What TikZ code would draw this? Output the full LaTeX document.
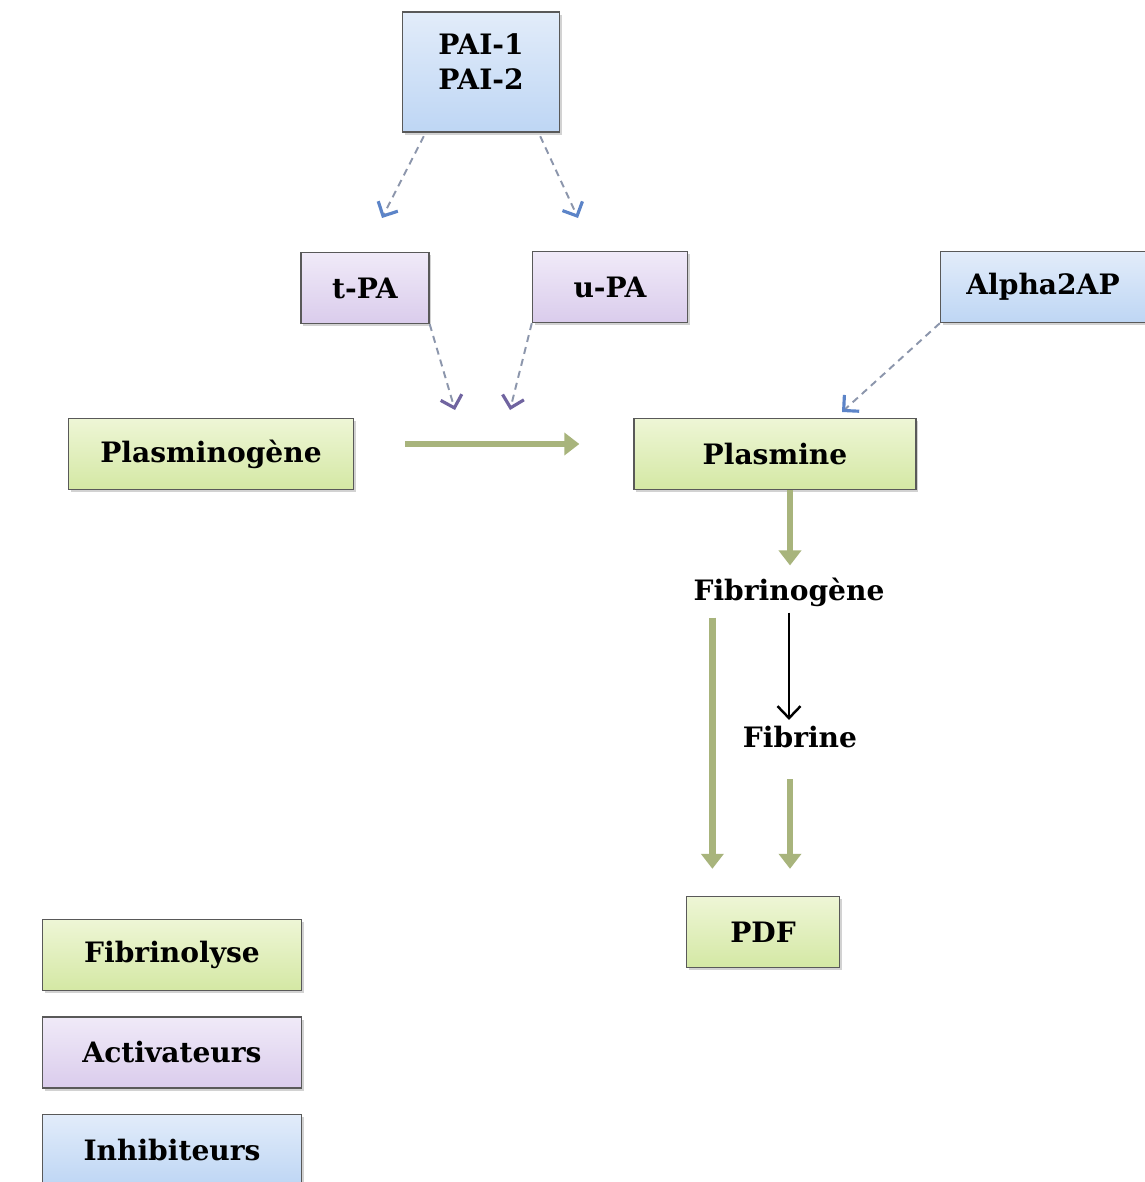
\documentclass[tikz,border=0pt]{standalone}
\usepackage{fontspec}
\setmainfont{DejaVu Serif}
\usepackage{tikz}
\usetikzlibrary{arrows.meta,positioning,shadows}
\definecolor{fibtop}{RGB}{238,246,214}
\definecolor{fibbot}{RGB}{212,232,164}
\definecolor{acttop}{RGB}{240,234,248}
\definecolor{actbot}{RGB}{218,204,236}
\definecolor{inhtop}{RGB}{226,236,250}
\definecolor{inhbot}{RGB}{190,214,244}
\definecolor{olive}{RGB}{168,180,124}
\definecolor{dashgrey}{RGB}{140,150,172}
\definecolor{tipblue}{RGB}{92,132,200}
\definecolor{tippurple}{RGB}{112,100,160}
\tikzset{
  box/.style={draw=black!65, line width=0.8pt, minimum height=1.42cm,
    font=\bfseries\fontsize{16}{20}\selectfont, align=center,
    drop shadow={opacity=0.35,shadow xshift=1.2pt,shadow yshift=-1.5pt}},
  fib/.style={box, top color=fibtop, bottom color=fibbot},
  act/.style={box, top color=acttop, bottom color=actbot},
  inh/.style={box, top color=inhtop, bottom color=inhbot},
  lbl/.style={font=\bfseries\fontsize{16}{20}\selectfont},
  inhib/.style={dashgrey, line width=1.1pt, dash pattern=on 4pt off 3pt,
    -{Straight Barb[length=2.2mm,width=4.4mm,line width=1.8pt,color=tipblue]}},
  activ/.style={dashgrey, line width=1.1pt, dash pattern=on 4pt off 3pt,
    -{Straight Barb[length=2.2mm,width=4.4mm,line width=1.8pt,color=tippurple]}},
  conv/.style={olive, line width=3.8pt, -{Triangle[length=3mm,width=4.4mm]}},
}

\begin{document}
\begin{tikzpicture}[x=0.02cm, y=-0.02cm]
  \useasboundingbox[fill=white] (0,0) rectangle (1144,1182);
  % inhibiteurs et activateurs
  \node[inh, minimum width=3.14cm, minimum height=2.4cm] (pai) at (481,72) {PAI-1\\PAI-2\rule[-0.4cm]{0pt}{0pt}};
  \node[act, minimum width=2.56cm] (tpa) at (365,288) {t-PA};
  \node[act, minimum width=3.1cm] (upa) at (610,287) {u-PA};
  \node[inh, minimum width=4.1cm] (alpha) at (1043,287) {Alpha2AP};
  % fibrinolyse
  \node[fib, minimum width=5.7cm] (plasminogene) at (211,454) {Plasminogène};
  \node[fib, minimum width=5.64cm] (plasmine) at (775,454) {Plasmine};
  \node[lbl] (fibrinogene) at (789,592) {Fibrinogène};
  \node[lbl] (fibrine) at (800,737) {Fibrine};
  \node[fib, minimum width=3.06cm] (pdf) at (763,932) {PDF};
  % legende
  \node[fib, minimum width=5.18cm] (legfib) at (172,955) {Fibrinolyse};
  \node[act, minimum width=5.18cm, below=0.5cm of legfib] (legact) {Activateurs};
  \node[inh, minimum width=5.18cm, below=0.5cm of legact] (leginh) {Inhibiteurs};
  \coordinate (tpaIn) at (382,218);
  \coordinate (upaIn) at (578,218);
  \coordinate (tpaOut) at (455,410);
  \coordinate (upaOut) at (510,410);
  \coordinate (plasIn) at (842,412);

  \draw[inhib] ([xshift=0.44cm,yshift=-2pt]pai.south west) -- (tpaIn);
  \draw[inhib] ([xshift=-0.4cm,yshift=-2pt]pai.south east) -- (upaIn);
  \draw[activ] (tpa.south east) -- (tpaOut);
  \draw[activ] (upa.south west) -- (upaOut);
  \draw[inhib] (alpha.south west) -- (plasIn);
  \draw[conv, shorten <=1.02cm, shorten >=1.08cm] ([yshift=0.2cm]plasminogene.east) -- ([yshift=0.2cm]plasmine.west);
  \draw[conv, shorten >=0.12cm] ([xshift=0.3cm]plasmine.south) -- ([xshift=0.3cm]plasmine.south |- fibrinogene.north);
  \draw[conv, shorten <=0.1cm, shorten >=0.54cm] ([xshift=0.5cm]fibrinogene.south west) -- ([xshift=0.5cm]fibrinogene.south west |- pdf.north);
  \draw[black, line width=1.2pt, -{Straight Barb[length=2.4mm,width=4.6mm,line width=1.4pt]}] (fibrinogene.south) -- (fibrinogene.south |- fibrine.north);
  \draw[conv, shorten <=0.5cm, shorten >=0.54cm] ([xshift=-0.2cm]fibrine.south) -- ([xshift=-0.2cm]fibrine.south |- pdf.north);
\end{tikzpicture}
\end{document}
